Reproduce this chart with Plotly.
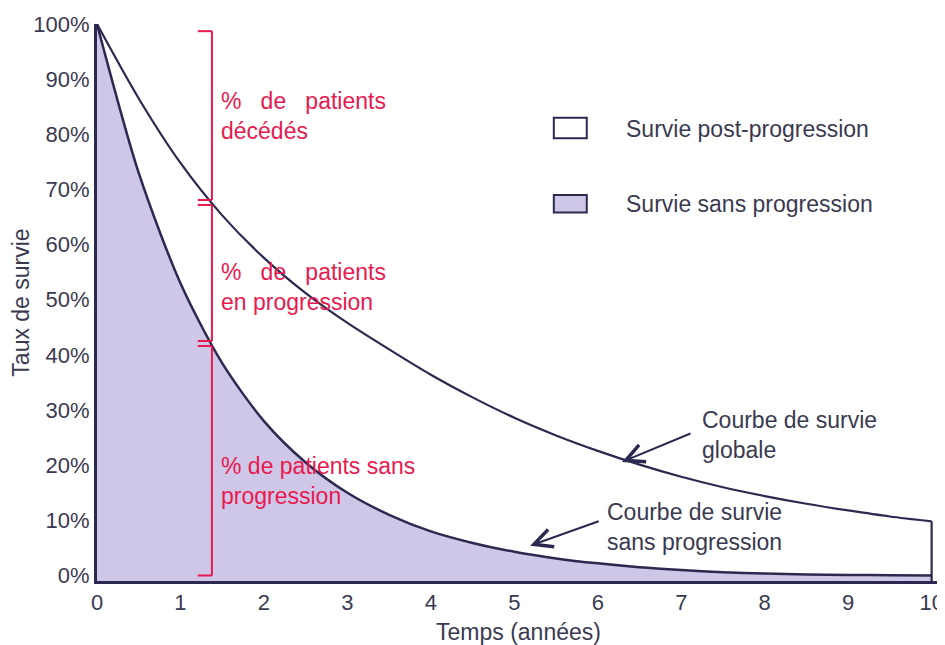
import numpy as np
import plotly.graph_objects as go

# ---- data ----
TIME = [0, 0.5, 1, 1.5, 2, 2.5, 3, 3.5, 4, 4.5, 5, 5.5, 6, 6.5, 7, 7.5, 8, 8.5, 9, 9.5, 10]
OS = [100, 86.5, 74.8, 65.3, 57.6, 51.2, 45.8, 41.0, 36.4, 32.3, 28.6, 25.4, 22.6, 20.1, 17.9, 16.0, 14.4, 13.0, 11.8, 10.7, 9.8]
PFS = [100, 73, 53, 38.5, 28, 20.5, 15, 11, 8, 5.9, 4.3, 3.1, 2.2, 1.5, 1.0, 0.6, 0.35, 0.2, 0.1, 0.05, 0]

X_TICKS = list(range(0, 11))
Y_TICKS = list(range(0, 101, 10))
Y_RANGE = [-1, 100]
X_RANGE = [0, 10.1]

LEGEND_LABELS = ["Survie post-progression", "Survie sans progression"]
BRACKET_X = 1.377

# ---- styles ----
NAVY = "#2c2950"
LAV = "#cfc7e7"
RED = "#e8194f"
TXT = "#3a3950"
FONT = "Liberation Sans, Arial, sans-serif"

fig = go.Figure()

# baseline helper (bottom of axis) so the PFS area reaches the axis line
fig.add_trace(go.Scatter(x=[TIME[0], TIME[-1]], y=[Y_RANGE[0], Y_RANGE[0]], mode="lines",
                         line=dict(width=0, color=LAV), showlegend=False, hoverinfo="skip"))
fig.add_trace(go.Scatter(x=TIME, y=PFS, mode="lines", fill="tonexty", fillcolor=LAV,
                         line=dict(color=NAVY, width=2.5, shape="spline", smoothing=0.8),
                         showlegend=False))
fig.add_trace(go.Scatter(x=TIME, y=OS, mode="lines",
                         line=dict(color=NAVY, width=2.2, shape="spline", smoothing=0.8),
                         showlegend=False))
# closing edge of the overall survival area at the last time point
fig.add_trace(go.Scatter(x=[TIME[-1], TIME[-1]], y=[OS[-1], Y_RANGE[0]], mode="lines",
                         line=dict(color=NAVY, width=2.2), showlegend=False))

shapes = []
os_b = float(np.interp(BRACKET_X, TIME, OS))
pfs_b = float(np.interp(BRACKET_X, TIME, PFS))
tick = 0.17
top_b = 98.7
gap = 0.45
segments = [(top_b, os_b + gap), (os_b - gap, pfs_b + gap), (pfs_b - gap, 0)]
for hi, lo in segments:
    shapes.append(dict(type="line", xref="x", yref="y", x0=BRACKET_X, x1=BRACKET_X, y0=lo, y1=hi,
                       line=dict(color=RED, width=2)))
    for yy in (hi, lo):
        shapes.append(dict(type="line", xref="x", yref="y", x0=BRACKET_X - tick, x1=BRACKET_X,
                           y0=yy, y1=yy, line=dict(color=RED, width=2)))

# legend boxes
shapes.append(dict(type="rect", xref="x", yref="y", x0=5.473, x1=5.868, y0=79.3, y1=83.0,
                   line=dict(color=NAVY, width=2), fillcolor="white"))
shapes.append(dict(type="rect", xref="x", yref="y", x0=5.473, x1=5.868, y0=65.8, y1=69.0,
                   line=dict(color=NAVY, width=2), fillcolor=LAV))

annotations = []
def txt(x, y, text, color=TXT, xanchor="left", align="left", size=23):
    annotations.append(dict(x=x, y=y, xref="x", yref="y", text=text, showarrow=False,
                            xanchor=xanchor, yanchor="middle", align=align,
                            font=dict(family=FONT, size=size, color=color)))

S3 = "\u00a0\u00a0 "
txt(1.461, 83.3, "%" + S3 + "de" + S3 + "patients<br>décédés", color=RED)
txt(1.461, 52.4, "%" + S3 + "de" + S3 + "patients<br>en progression", color=RED)
txt(1.461, 17.2, "% de patients sans<br>progression", color=RED)
txt(6.31, 81.0, LEGEND_LABELS[0])
txt(6.31, 67.4, LEGEND_LABELS[1])
txt(7.22, 25.4, "Courbe de survie<br>globale")
txt(7.16, 8.8, "Courbe de survie<br>sans progression", xanchor="center", align="center")

for hx, hy, ax, ay in [(6.29, 20.6, 70, -29), (5.19, 5.4, 70, -25)]:
    annotations.append(dict(x=hx, y=hy, xref="x", yref="y", text="", showarrow=True,
                            arrowhead=5, arrowsize=1.8, arrowwidth=2, arrowcolor=NAVY,
                            ax=ax, ay=ay, axref="pixel", ayref="pixel", standoff=0))

# the page places the figure 8px from the top-left corner, so the figure is 8px smaller
fig.update_layout(
    width=937, height=637,
    margin=dict(l=89, r=5, t=16, b=64, autoexpand=False),
    paper_bgcolor="white", plot_bgcolor="white",
    shapes=shapes, annotations=annotations,
    font=dict(family=FONT, size=22, color=TXT),
    showlegend=False,
)
fig.update_xaxes(range=X_RANGE, tickvals=X_TICKS, ticktext=[str(v) for v in X_TICKS],
                 showgrid=False, zeroline=False, showline=True, linecolor=NAVY, linewidth=3,
                 ticks="", tickfont=dict(size=22, color=TXT), automargin=False,
                 title=dict(text="Temps (années)", font=dict(size=23, color=TXT), standoff=12))
fig.update_yaxes(range=Y_RANGE, tickvals=Y_TICKS, ticktext=[f"{v}%" for v in Y_TICKS],
                 showgrid=False, zeroline=False, showline=True, linecolor=NAVY, linewidth=3,
                 ticks="", tickfont=dict(size=22, color=TXT), automargin=False,
                 title=dict(text="Taux de survie", font=dict(size=23, color=TXT), standoff=1))

fig.write_html("out.html")
